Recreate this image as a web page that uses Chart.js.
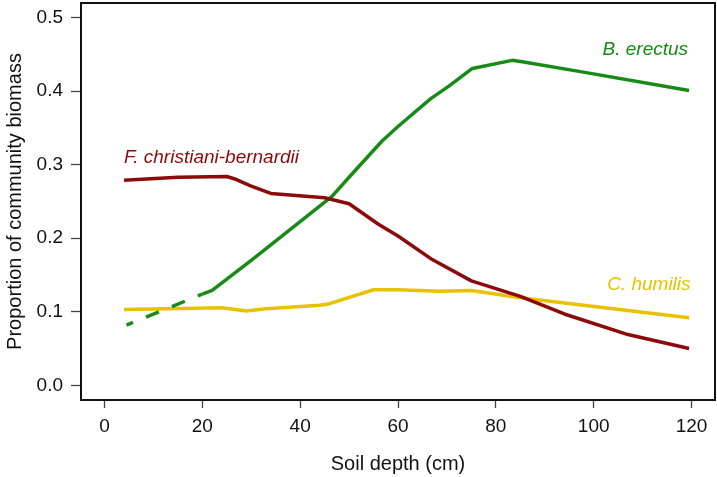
<!DOCTYPE html>
<html>
<head>
<meta charset="utf-8">
<script src="https://cdn.jsdelivr.net/npm/chart.js@4/dist/chart.umd.min.js"></script>
<style>
  body { margin: 0; background: #fff; }
  canvas { display: block; }
</style>
</head>
<body>
<canvas id="depthChart" width="717" height="477"></canvas>
<script>
// soil depth (cm) for each species' fitted curve
var fcDepth = [4, 15, 25, 26.5, 30, 34, 45, 50, 56, 60, 67, 75, 85, 94, 107, 119.5]
var fcValues = [0.279, 0.283, 0.284, 0.281, 0.271, 0.261, 0.255, 0.247, 0.219, 0.203, 0.171, 0.142, 0.121, 0.097, 0.069, 0.050]

var beDepth = [4.5, 20, 22, 30, 38, 46.5, 50, 56.7, 60, 66.7, 70.4, 75.2, 83.3, 85.4, 97, 119.5]
var beValues = [0.082, 0.124, 0.129, 0.170, 0.212, 0.257, 0.283, 0.332, 0.352, 0.390, 0.407, 0.431, 0.442, 0.440, 0.427, 0.401]

var chDepth = [4, 24, 29, 33, 44, 46, 55, 60, 68.5, 75, 85, 119.5]
var chValues = [0.103, 0.1055, 0.101, 0.104, 0.109, 0.111, 0.130, 0.130, 0.128, 0.129, 0.119, 0.092]

var xTicks = [0, 20, 40, 60, 80, 100, 120]
var yTicks = [0, 0.1, 0.2, 0.3, 0.4, 0.5]

// below this depth the B. erectus curve is extrapolated (dashed)
var dashBelow = 20

var RED = '#8c0a0a'
var GREEN = '#168c16'
var YELLOW = '#e8c200'

var speciesLabels = [
  { text: 'F. christiani-bernardii', x: 4, y: 0.31, align: 'left', color: RED },
  { text: 'B. erectus', x: 119.3, y: 0.456, align: 'right', color: GREEN },
  { text: 'C. humilis', x: 119.8, y: 0.137, align: 'right', color: YELLOW }
]

function toPoints(xs, ys) {
  var pts = []
  for (var i = 0; i < xs.length; i++) {
    pts.push({ x: xs[i], y: ys[i] })
  }
  return pts
}

var FONT = "'Liberation Sans', Arial, sans-serif"

// box around plot region + species names
var boxAndLabels = {
  id: 'boxAndLabels',
  afterDatasetsDraw: function (chart) {
    var ctx = chart.ctx
    var a = chart.chartArea
    var xs = chart.scales.x
    var ys = chart.scales.y
    ctx.save()
    ctx.strokeStyle = '#111'
    ctx.lineWidth = 2
    ctx.strokeRect(a.left, a.top, a.right - a.left, a.bottom - a.top)
    ctx.font = 'italic 19px ' + FONT
    ctx.textBaseline = 'middle'
    speciesLabels.forEach(function (l) {
      ctx.fillStyle = l.color
      ctx.textAlign = l.align
      ctx.fillText(l.text, xs.getPixelForValue(l.x), ys.getPixelForValue(l.y))
    })
    ctx.restore()
  }
}

var lineStyle = {
  borderWidth: 3.5,
  pointRadius: 0,
  tension: 0,
  fill: false,
  borderCapStyle: 'butt',
  borderJoinStyle: 'round'
}

// fixed axis sizes, no extra room for the end tick labels
function fitX(s) {
  s.height = 77
  s.paddingLeft = 0
  s.paddingRight = 0
}
function fitY(s) {
  s.width = 81
  s.paddingTop = 0
  s.paddingBottom = 0
}

new Chart(document.getElementById('depthChart').getContext('2d'), {
  type: 'line',
  data: {
    datasets: [
      Object.assign({ label: 'F. christiani-bernardii', data: toPoints(fcDepth, fcValues), borderColor: RED }, lineStyle),
      Object.assign({
        label: 'B. erectus', data: toPoints(beDepth, beValues), borderColor: GREEN,
        segment: {
          borderDash: function (c) { return c.p1.parsed.x <= dashBelow ? [14, 14] : undefined },
          borderDashOffset: function (c) { return c.p1.parsed.x <= dashBelow ? 7 : 0 }
        }
      }, lineStyle),
      Object.assign({ label: 'C. humilis', data: toPoints(chDepth, chValues), borderColor: YELLOW }, lineStyle)
    ]
  },
  options: {
    responsive: false,
    animation: false,
    layout: { autoPadding: false, padding: { top: 3, right: 2, left: 0, bottom: 0 } },
    plugins: { legend: { display: false }, tooltip: { enabled: false } },
    scales: {
      x: {
        type: 'linear',
        min: -4.8,
        max: 124.8,
        afterBuildTicks: function (s) { s.ticks = xTicks.map(function (v) { return { value: v } }) },
        afterFit: fitX,
        grid: { drawOnChartArea: false, tickLength: 8, tickColor: '#444', tickWidth: 1.3 },
        border: { display: false },
        ticks: { color: '#111', font: { family: FONT, size: 19 }, padding: 7, maxRotation: 0 },
        title: { display: true, text: 'Soil depth (cm)', color: '#111', font: { family: FONT, size: 20 }, padding: { top: 0, bottom: 1 } }
      },
      y: {
        type: 'linear',
        min: -0.02,
        max: 0.52,
        afterBuildTicks: function (s) { s.ticks = yTicks.map(function (v) { return { value: v } }) },
        afterFit: fitY,
        grid: { drawOnChartArea: false, tickLength: 10, tickColor: '#444', tickWidth: 1.3 },
        border: { display: false },
        ticks: {
          color: '#111', font: { family: FONT, size: 19 }, padding: 8,
          callback: function (v) { return v.toFixed(1) }
        },
        title: { display: true, text: 'Proportion of community biomass', color: '#111', font: { family: FONT, size: 20 }, padding: { top: 3, bottom: 0 } }
      }
    }
  },
  plugins: [boxAndLabels]
})
</script>
</body>
</html>
